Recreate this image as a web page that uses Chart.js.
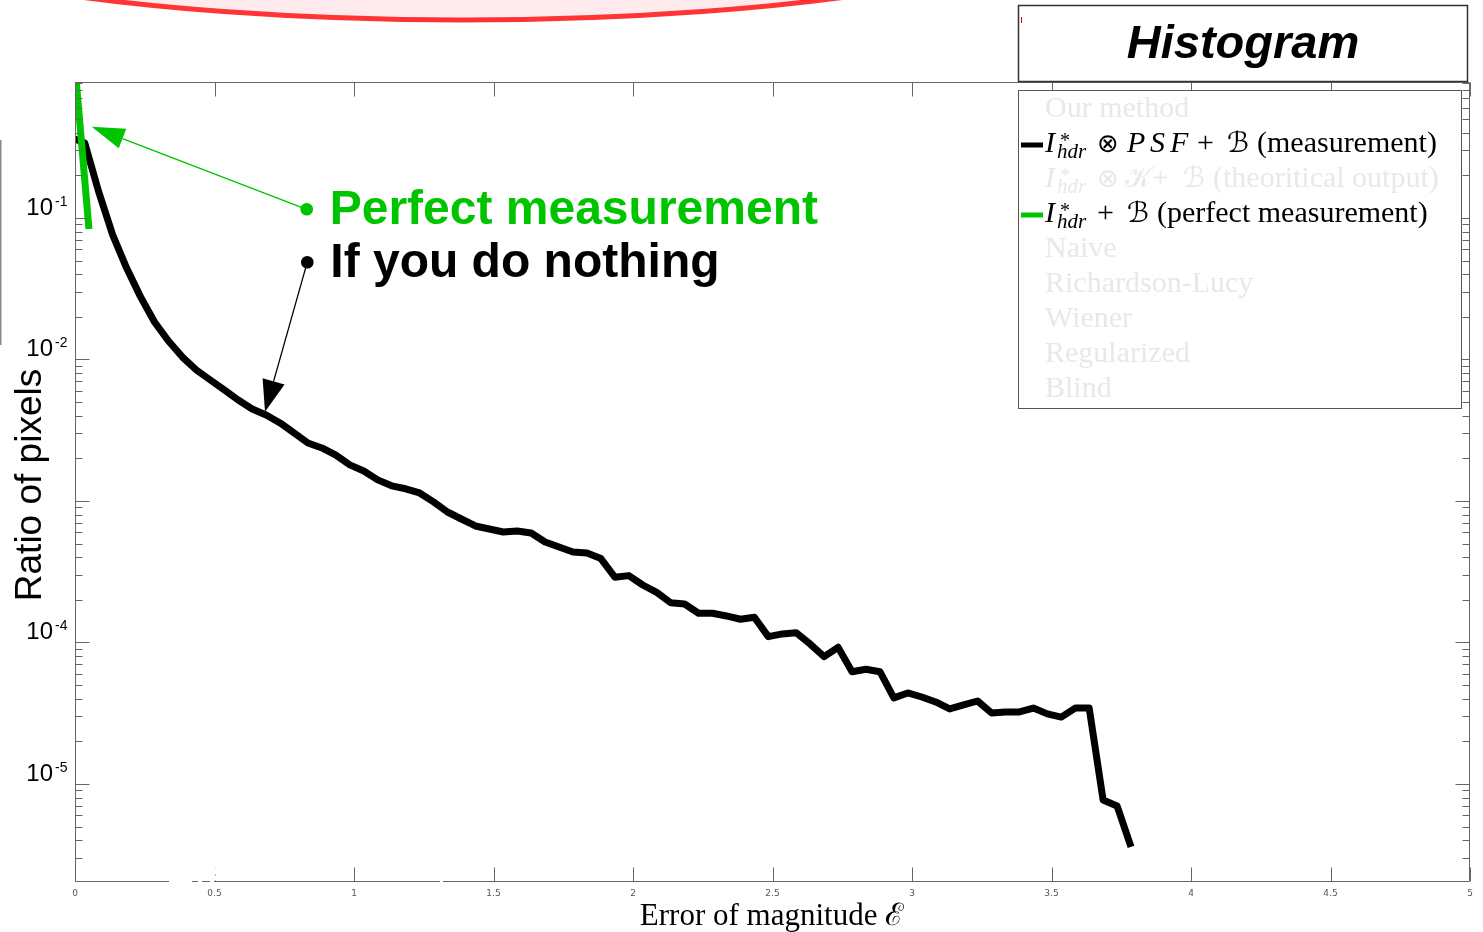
<!DOCTYPE html>
<html>
<head>
<meta charset="utf-8">
<script src="https://cdn.jsdelivr.net/npm/chart.js@4.4.0/dist/chart.umd.min.js"></script>
<style>
  html, body { margin: 0; padding: 0; background: #fff; }
  canvas { display: block; }
</style>
</head>
<body>
<canvas id="chart" width="1483" height="932"></canvas>
<script>
// histogram bins (error magnitude) and ratio of pixels per bin
const measureErr = [0, 0.035, 0.085, 0.135, 0.185, 0.235, 0.285, 0.335, 0.385, 0.435, 0.485,
  0.535, 0.585, 0.635, 0.685, 0.735, 0.785, 0.835, 0.885, 0.935, 0.985,
  1.035, 1.085, 1.135, 1.185, 1.235, 1.285, 1.335, 1.385, 1.435, 1.485,
  1.535, 1.585, 1.635, 1.685, 1.735, 1.785, 1.835, 1.885, 1.935, 1.985,
  2.035, 2.085, 2.135, 2.185, 2.235, 2.285, 2.335, 2.385, 2.435, 2.485,
  2.535, 2.585, 2.635, 2.685, 2.735, 2.785, 2.835, 2.885, 2.935, 2.985,
  3.035, 3.085, 3.135, 3.185, 3.235, 3.285, 3.335, 3.385, 3.435, 3.485,
  3.535, 3.585, 3.635, 3.685, 3.735, 3.785];
const measureRatio = [0.361, 0.339, 0.153, 0.0759, 0.0443, 0.0277, 0.0184, 0.0135, 0.0104, 0.00843, 0.00716,
  0.00609, 0.00517, 0.00447, 0.00405, 0.00356, 0.00303, 0.00257, 0.00237, 0.00211, 0.00180,
  0.00163, 0.00141, 0.00128, 0.00122, 0.00114, 0.000985, 0.000836, 0.000746, 0.000666, 0.000634,
  0.000604, 0.000614, 0.000594, 0.000513, 0.000473, 0.000436, 0.000429, 0.000392, 0.000289, 0.000297,
  0.000255, 0.000226, 0.000191, 0.000187, 0.000161, 0.000161, 0.000154, 0.000146, 0.000151, 0.000110,
  0.000115, 0.000117, 0.0000975, 0.0000794, 0.0000925, 0.0000622, 0.0000647, 0.0000622, 0.0000406, 0.0000440,
  0.0000412, 0.0000380, 0.0000339, 0.0000362, 0.0000386, 0.0000318, 0.0000323, 0.0000323, 0.0000344, 0.0000313,
  0.0000297, 0.0000344, 0.0000344, 0.00000771, 0.00000700, 0.00000359];

const perfectErr = [0.003, 0.05];
const perfectRatio = [1.0, 0.0836];

const xTicks = [0, 0.5, 1, 1.5, 2, 2.5, 3, 3.5, 4, 4.5, 5];
const xTickLabels = ['0', '0.5', '1', '1.5', '2', '2.5', '3', '3.5', '4', '4.5', '5'];
const yLabelExp = [-1, -2, -4, -5];   // 10^-3 label is hidden under the axis title

const legendNames = ['Our method', 'measurement', 'theoritical output', 'perfect measurement',
  'Naive', 'Richardson-Lucy', 'Wiener', 'Regularized', 'Blind'];

const GREEN = '#00c400';
const FADED = '#e8e8e8';

const pts = (xs, ys) => xs.map((x, i) => ({ x: x, y: ys[i] }));

// annotation anchors in data units
const notes = [
  { text: 'Perfect measurement', color: GREEN, dot: [0.8305, 0.1152], tip: [0.0599, 0.4417], head: [33, 10.5], dy: 15 },
  { text: 'If you do nothing', color: '#000', dot: [0.8326, 0.0487], tip: [0.681, 0.00428], head: [31.5, 11.4], dy: 15 }
];

function drawParts(ctx, x0, base, parts, color) {
  ctx.fillStyle = color;
  ctx.textAlign = 'left';
  ctx.textBaseline = 'alphabetic';
  parts.forEach(p => {
    ctx.font = p[2];
    ctx.fillText(p[0], x0 + p[1], base + (p[3] || 0));
  });
}

const RM = '30px "Liberation Serif", "DejaVu Serif"';
const IT = 'italic 30px "Liberation Serif", "DejaVu Serif"';
const SUP = '20px "Liberation Serif", "DejaVu Serif"';
const SUB = 'italic 21px "Liberation Serif", "DejaVu Serif"';
const SYM = '26px "DejaVu Sans", "DejaVu Serif"';
const CAL = '28px "DejaVu Serif", "DejaVu Sans"';

function ihdr() {
  return [['I', 0, IT], ['*', 15, SUP, -5], ['hdr', 12, SUB, 6]];
}

const legendParts = [
  [[legendNames[0], 0, RM]],
  ihdr().concat([['\u2297', 52, SYM], ['P', 82, IT], ['S', 105, IT], ['F', 125, IT], ['+', 152, RM],
    ['\u212C', 182, CAL], ['(' + legendNames[1] + ')', 212, RM]]),
  ihdr().concat([['\u2297', 52, SYM], ['\uD835\uDCA6', 80, CAL], ['+', 107, RM], ['\u212C', 138, CAL],
    ['(' + legendNames[2] + ')', 168, RM]]),
  ihdr().concat([['+', 52, RM], ['\u212C', 82, CAL], ['(' + legendNames[3] + ')', 112, RM]]),
  [[legendNames[4], 0, RM]],
  [[legendNames[5], 0, RM]],
  [[legendNames[6], 0, RM]],
  [[legendNames[7], 0, RM]],
  [[legendNames[8], 0, RM]]
];
const legendColors = [null, '#000', null, GREEN, null, null, null, null, null];

const decor = {
  id: 'decor',
  beforeDraw(chart) {
    const ctx = chart.ctx;
    ctx.save();
    ctx.fillStyle = '#fff';
    ctx.fillRect(0, 0, chart.width, chart.height);
    // red ellipse cut by the top edge
    ctx.beginPath();
    ctx.ellipse(463, -100, 650, 120, 0, 0, Math.PI * 2);
    ctx.fillStyle = '#ffebed';
    ctx.fill();
    ctx.lineWidth = 5;
    ctx.strokeStyle = '#ff3535';
    ctx.stroke();
    // stray gray bar at the left edge
    ctx.strokeStyle = '#888';
    ctx.lineWidth = 1.5;
    ctx.beginPath(); ctx.moveTo(0.75, 140); ctx.lineTo(0.75, 345); ctx.stroke();
    ctx.restore();
  },
  afterDatasetsDraw(chart) {
    const ctx = chart.ctx;
    const xs = chart.scales.x, ys = chart.scales.y;
    const { left, right, top, bottom } = chart.chartArea;
    const L = Math.round(left) + 0.5, R = Math.round(right) - 0.5;
    const T = Math.round(top) + 0.5, B = Math.round(bottom) - 0.5;
    ctx.save();

    // axes frame
    ctx.strokeStyle = '#666';
    ctx.lineWidth = 1;
    ctx.beginPath();
    ctx.moveTo(L, T); ctx.lineTo(R, T); ctx.lineTo(R, B); ctx.lineTo(L, B); ctx.closePath();
    ctx.stroke();

    // x ticks (inward, top and bottom)
    ctx.beginPath();
    xTicks.forEach(v => {
      const px = Math.round(xs.getPixelForValue(v)) + 0.5;
      ctx.moveTo(px, B); ctx.lineTo(px, B - 14);
      ctx.moveTo(px, T); ctx.lineTo(px, T + 14);
    });
    ctx.stroke();

    // y ticks, major and minor
    ctx.beginPath();
    for (let e = -6; e <= 0; e++) {
      for (let m = 1; m <= 9; m++) {
        const v = m * Math.pow(10, e);
        if (v < ys.min || v > ys.max) continue;
        const py = Math.round(ys.getPixelForValue(v)) + 0.5;
        const len = m === 1 ? 14 : 7;
        ctx.moveTo(L, py); ctx.lineTo(L + len, py);
        ctx.moveTo(R, py); ctx.lineTo(R - len, py);
      }
    }
    ctx.stroke();

    // gaps in the bottom axis, as in the source picture
    ctx.fillStyle = '#fff';
    ctx.fillRect(169, B - 2, 23, 4);
    ctx.fillRect(198, B - 2, 4, 4);
    ctx.fillRect(210, B - 2, 4, 4);
    ctx.fillRect(212, B - 14, 5, 7);
    ctx.fillRect(212, B - 6, 5, 5);
    ctx.fillRect(440, B - 2, 3, 4);

    // x tick labels
    ctx.fillStyle = '#555';
    ctx.font = '9px "DejaVu Sans"';
    ctx.textAlign = 'center';
    ctx.textBaseline = 'alphabetic';
    xTicks.forEach((v, i) => ctx.fillText(xTickLabels[i], xs.getPixelForValue(v), 896));

    // y tick labels 10^n
    ctx.fillStyle = '#000';
    yLabelExp.forEach(e => {
      const py = ys.getPixelForValue(Math.pow(10, e));
      ctx.font = '24px "Liberation Sans"';
      ctx.textAlign = 'right';
      ctx.fillText('10', 53, py - 3);
      ctx.font = '14px "Liberation Sans"';
      ctx.textAlign = 'left';
      ctx.fillText('-' + Math.abs(e), 55, py - 12);
    });

    // axis titles
    ctx.save();
    ctx.translate(41, 485);
    ctx.rotate(-Math.PI / 2);
    ctx.textAlign = 'center';
    ctx.font = '37px "Liberation Sans"';
    ctx.fillText('Ratio of pixels', 0, 0);
    ctx.restore();
    ctx.textAlign = 'center';
    ctx.font = '31px "Liberation Serif", "DejaVu Serif"';
    ctx.fillText('Error of magnitude \u2130', 772, 925);

    // annotations: dot, leader line, arrow head, text
    notes.forEach(n => {
      const dx = xs.getPixelForValue(n.dot[0]), dy = ys.getPixelForValue(n.dot[1]);
      const tx = xs.getPixelForValue(n.tip[0]), ty = ys.getPixelForValue(n.tip[1]);
      const len = Math.hypot(dx - tx, dy - ty);
      const ux = (dx - tx) / len, uy = (dy - ty) / len;
      const bx = tx + ux * n.head[0], by = ty + uy * n.head[0];
      ctx.strokeStyle = n.color;
      ctx.fillStyle = n.color;
      ctx.lineWidth = 1.3;
      ctx.beginPath(); ctx.moveTo(dx, dy); ctx.lineTo(bx, by); ctx.stroke();
      ctx.beginPath();
      ctx.moveTo(tx, ty);
      ctx.lineTo(bx - uy * n.head[1], by + ux * n.head[1]);
      ctx.lineTo(bx + uy * n.head[1], by - ux * n.head[1]);
      ctx.closePath(); ctx.fill();
      ctx.beginPath(); ctx.arc(dx, dy, 6.3, 0, Math.PI * 2); ctx.fill();
      ctx.font = 'bold 48px "Liberation Sans"';
      ctx.textAlign = 'left';
      ctx.fillText(n.text, dx + 23, dy + n.dy);
    });

    // title box
    ctx.fillStyle = '#fff';
    ctx.fillRect(1018, 5, 449, 77);
    ctx.strokeStyle = '#333';
    ctx.lineWidth = 1.5;
    ctx.strokeRect(1018.5, 5.5, 449, 76);
    ctx.fillStyle = '#e00';
    ctx.fillRect(1021, 17, 1, 6);
    ctx.fillStyle = '#000';
    ctx.textAlign = 'center';
    ctx.font = 'italic bold 47px "Liberation Sans"';
    ctx.fillText('Histogram', 1243, 58);

    // legend box
    ctx.fillStyle = '#fff';
    ctx.fillRect(1018, 90, 444, 319);
    ctx.strokeStyle = '#555';
    ctx.lineWidth = 1;
    ctx.strokeRect(1018.5, 90.5, 443, 318);
    legendParts.forEach((parts, i) => {
      const base = 117 + 35 * i;
      const c = legendColors[i];
      if (c) {
        ctx.strokeStyle = c;
        ctx.lineWidth = 5;
        ctx.beginPath(); ctx.moveTo(1021, base - 7); ctx.lineTo(1043, base - 7); ctx.stroke();
      }
      drawParts(ctx, 1045, base, parts, c ? '#000' : FADED);
    });

    ctx.restore();
  }
};

new Chart(document.getElementById('chart'), {
  type: 'line',
  data: {
    datasets: [
      {
        label: legendNames[3],
        data: pts(perfectErr, perfectRatio),
        borderColor: GREEN,
        borderWidth: 7,
        pointRadius: 0,
        tension: 0,
        clip: 0
      },
      {
        label: legendNames[1],
        data: pts(measureErr, measureRatio),
        borderColor: '#000',
        borderWidth: 7,
        borderJoinStyle: 'round',
        pointRadius: 0,
        tension: 0,
        clip: 0
      }
    ]
  },
  options: {
    responsive: false,
    animation: false,
    events: [],
    layout: { padding: { left: 75, right: 13, top: 82, bottom: 50 } },
    scales: {
      x: { type: 'linear', min: 0, max: 5, display: false },
      y: { type: 'logarithmic', min: 2.03e-6, max: 0.914, display: false }
    },
    plugins: { legend: { display: false }, tooltip: { enabled: false } }
  },
  plugins: [decor]
});
</script>
</body>
</html>
